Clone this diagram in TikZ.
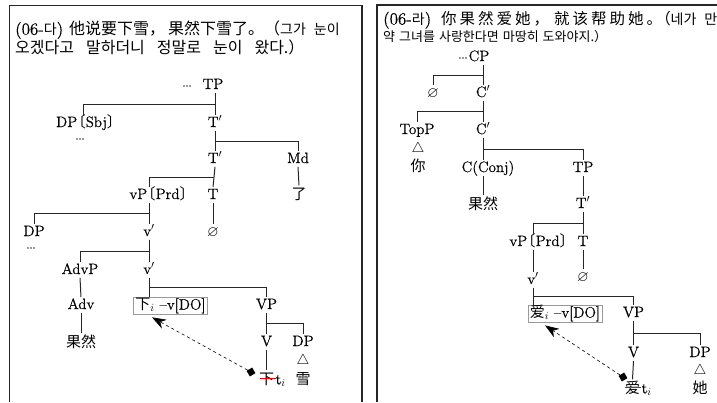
\documentclass[tikz,border=0pt]{standalone}
\usepackage{fontspec}
\usepackage{amssymb}
\setmainfont{lmroman12-regular.otf}[FakeBold=0.5]
\newfontfamily\krfnt{Noto Sans CJK KR}
\newfontfamily\zhfnt{Noto Sans CJK SC}
\usetikzlibrary{arrows.meta,calc}
\newcommand\LAt[1]{{\fontsize{17}{18}\selectfont #1}}
\newcommand\KRt[2]{{\fontsize{#1}{16}\selectfont\krfnt #2}}
\newcommand\ZHt[2]{{\fontsize{#1}{16}\selectfont\zhfnt #2}}
\newcommand\ZHs[1]{{\zhfnt #1}}
\newcommand\lsp{\hspace{3pt}}
\newcommand\LB{\hspace{-6.5pt}{\zhfnt 〔}}
\newcommand\RB{{\zhfnt 〕}\hspace{-6.5pt}}
\newcommand\brn[3]{%
  \draw[brl] (#1) -- (#2);
  \draw[brl] (#3) |- ($(#1)!.5!(#2)$);
}
\tikzset{
  tn/.style={font=\fontsize{15}{16}\selectfont, inner sep=1.2pt, text height=10.5pt, text depth=2.5pt},
  cjk/.style={inner sep=1.2pt, font=\fontsize{15}{16}\selectfont\zhfnt, text height=12.5pt, text depth=2pt},
  brl/.style={line width=1pt, draw=black!85},
  ttl/.style={anchor=west, inner sep=0pt, font=\fontsize{15}{16}\selectfont},
  framel/.style={line width=1.2pt, draw=black!85},
  boxed/.style={tn, draw=black!40, line width=0.7pt, inner sep=2pt},
  mv/.style={dashed, line width=0.6pt, -{Stealth[length=14pt,width=10pt,inset=4.5pt]}},
  trace/.style={fill=black, minimum size=6.5pt, inner sep=0pt, rotate=30},
  strike/.style={red, line width=0.6pt},
  dotsn/.style={font=\fontsize{11}{11}\selectfont, inner sep=0pt}
}
\begin{document}
\begin{tikzpicture}[x=1pt,y=-1pt]
\useasboundingbox[fill=white] (0,0) rectangle (717,402);
% frames
\draw[framel] (9.5,402) -- (9.5,5.5) -- (362,5.5) -- (362,402);
\draw[framel] (377,402) -- (377,5) -- (717,5);

% ---------------- left panel ----------------
\node[ttl] (lt1) at (15,30) {\LAt{(06-}\KRt{14}{다}\LAt{)}\hspace{6pt}\ZHt{16}{他说要下雪，\hspace{3pt}果然下雪了。（}\KRt{14}{그가\hspace{8pt}눈이}};
\node[ttl] (lt2) at (15,47) {\KRt{16}{오겠다고\hspace{12pt}말하더니\hspace{12pt}정말로\hspace{12pt}눈이\hspace{12pt}왔다.）}};

\node[dotsn] (ldots0) at (187,86) {...};
\node[tn] (lTP) at (213,85) {TP};
\node[tn] (lDPS) at (89,123) {DP\LB Sbj\RB};
\node[tn] (lT1) at (215,123) {T$'$};
\node[dotsn] (ldots1) at (80,139) {...};
\node[tn] (lT2) at (215,159) {T$'$};
\node[tn] (lMd) at (298,159) {Md};
\node[cjk] (lle) at (299,194) {了};
\node[tn] (lvP) at (162,195) {vP\LB Prd\RB};
\node[tn] (lT) at (213,195) {T};
\node[tn] (lnull) at (213,232) {$\varnothing$};
\node[tn] (lDP) at (34,232) {DP};
\node[tn] (lv1) at (149,232) {v$'$};
\node[dotsn] (ldots2) at (31,248) {...};
\node[tn] (lAdvP) at (80,270) {AdvP};
\node[tn] (lv2) at (149,270) {v$'$};
\node[tn] (lAdv) at (81,305) {Adv};
\node[cjk] (lgr) at (81,342) {果然};
\node[boxed] (lbox) at (170.5,305.5) {\ZHs{下}$_i$ --v[DO]};
\node[tn] (lVP) at (266.5,305) {VP};
\node[tn] (lV) at (266.5,342) {V};
\node[tn] (lDP2) at (303,342) {DP};
\node[tn] (ltri) at (303,360) {$\triangle$};
\node[cjk] (lxue) at (303,379) {雪};
\node[cjk] (lxia) at (266.5,379) {下};
\node[tn, anchor=base west, inner sep=0pt] (lti) at (lxia.base east) {t$_i$};
\node[trace] (lsq) at (251,372) {};

\coordinate (lTPb) at (lTP.south -| lT1.north);
\coordinate (lDPSt) at ([xshift=-6pt]lDPS.north);
\coordinate (lvPt) at (lvP.north -| lv1.north);
\coordinate (lvPb) at (lvP.south -| lv1.north);
\coordinate (lboxt) at (lbox.north -| lv2.south);
\coordinate (larr) at ([xshift=-18.5pt,yshift=-3pt]lbox.south);

\brn{lTPb}{lT1.north}{lDPSt}
\brn{lT1.south}{lT2.north}{lMd.north}
\draw[brl] (lMd.south) -- (lle.north);
\brn{lT2.south}{lT.north}{lvPt}
\draw[brl] (lT.south) -- (lnull.north);
\brn{lvPb}{lv1.north}{lDP.north}
\brn{lv1.south}{lv2.north}{lAdvP.north}
\draw[brl] (lAdvP.south) -- (lAdv.north);
\draw[brl] (lAdv.south) -- (lgr.north);
\brn{lv2.south}{lboxt}{lVP.north}
\brn{lVP.south}{lV.north}{lDP2.north}
\draw[brl] (lV.south) -- (lxia.north);
\draw[strike] ([xshift=-7pt,yshift=1pt]lxia.center) -- ([xshift=9pt,yshift=1pt]lxia.center);
\draw[mv] (lsq) -- (larr);

% ---------------- right panel ----------------
\node[ttl] (rt1) at (383,20) {\LAt{(06-}\KRt{14}{라}\LAt{)}\hspace{10pt}\ZHt{15.5}{你\lsp 果\lsp 然\lsp 爱\lsp 她\lsp ，\lsp\hspace{2pt}就\lsp 该\lsp 帮\lsp 助\lsp 她\lsp 。\hspace{-7pt}（}\KRt{14}{네가\hspace{8pt}만}};
\node[ttl] (rt2) at (383,37) {\KRt{13}{약\hspace{4pt}그녀를\hspace{4pt}사랑한다면\hspace{4pt}마땅히\hspace{4pt}도와야지.）}};

\node[dotsn] (rdots) at (463,58) {...};
\node[tn] (rCP) at (479,57) {CP};
\node[tn] (rnull1) at (433,93) {$\varnothing$};
\node[tn] (rC1) at (483,93) {C$'$};
\node[tn] (rTopP) at (417,130) {TopP};
\node[tn] (rC2) at (483,130) {C$'$};
\node[tn] (rtri1) at (418,148) {$\triangle$};
\node[cjk] (rni) at (418,166) {你};
\node[tn] (rCC) at (488,168) {C(Conj)};
\node[tn] (rTP) at (583,168) {TP};
\node[cjk] (rgr) at (483,204) {果然};
\node[tn] (rT1) at (583,204) {T$'$};
\node[tn] (rvP) at (542,242) {vP\LB Prd\RB};
\node[tn] (rT) at (583,242) {T};
\node[tn] (rv1) at (533,280) {v$'$};
\node[tn] (rnull2) at (583,277) {$\varnothing$};
\node[boxed] (rbox) at (565,313.5) {\ZHs{爱}$_i$ --v[DO]};
\node[tn] (rVP) at (633.5,313) {VP};
\node[tn] (rV) at (633.5,353) {V};
\node[tn] (rDP) at (700,353) {DP};
\node[tn] (rtri2) at (700,370) {$\triangle$};
\node[cjk] (rta) at (700,388) {她};
\node[cjk] (rai) at (632.5,388) {爱};
\node[tn, anchor=base west, inner sep=0pt] (rti) at (rai.base east) {t$_i$};
\node[trace] (rsq) at (623,377) {};

\coordinate (rCPb) at (rCP.south -| rC1.north);
\coordinate (rCCt) at (rCC.north -| rC2.south);
\coordinate (rCCb) at (rCC.south -| rgr.north);
\coordinate (rvPt) at (rvP.north -| rv1.north);
\coordinate (rvPb) at (rvP.south -| rv1.north);
\coordinate (rboxt) at (rbox.north -| rv1.south);
\coordinate (rarr) at ([xshift=-20pt,yshift=-3pt]rbox.south);

\brn{rCPb}{rC1.north}{rnull1.north}
\brn{rC1.south}{rC2.north}{rTopP.north}
\brn{rC2.south}{rCCt}{rTP.north}
\draw[brl] (rCCb) -- (rgr.north);
\draw[brl] (rTP.south) -- (rT1.north);
\brn{rT1.south}{rT.north}{rvPt}
\draw[brl] (rT.south) -- (rnull2.north);
\draw[brl] (rvPb) -- (rv1.north);
\brn{rv1.south}{rboxt}{rVP.north}
\brn{rVP.south}{rV.north}{rDP.north}
\draw[brl] (rV.south) -- (rai.north);
\draw[strike] ([xshift=-8pt,yshift=1pt]rai.center) -- ([xshift=8pt,yshift=1pt]rai.center);
\draw[mv] (rsq) -- (rarr);
\end{tikzpicture}
\end{document}
